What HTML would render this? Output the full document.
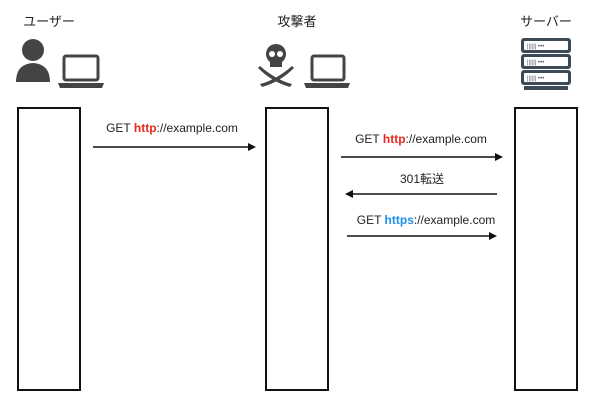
<!DOCTYPE html>
<html><head><meta charset="utf-8"><style>
body{margin:0;background:#fff;width:600px;height:406px;overflow:hidden;position:relative;font-family:"Liberation Sans","Noto Sans CJK JP",sans-serif;}
.t{position:absolute;font-size:12px;color:#222;white-space:nowrap;transform:translateX(-50%);}
.box{position:absolute;border:2px solid #111;background:#fff;box-sizing:border-box;}
.r{color:#e8261c;font-weight:bold}.b{color:#1e90e8;font-weight:bold}
</style></head><body>
<div class="t" style="left:49px;top:11px;font-size:13px">ユーザー</div>
<div class="t" style="left:297px;top:11px;font-size:13px">攻撃者</div>
<div class="t" style="left:546px;top:11px;font-size:13px">サーバー</div>
<svg width="600" height="406" style="position:absolute;left:0;top:0">
<g fill="#444">
<circle cx="33" cy="50" r="11"/>
<path d="M16 82 Q16 64 33 63 Q50 64 50 82 Z"/>
<rect x="64" y="56" width="34" height="24" rx="2" fill="none" stroke="#444" stroke-width="3"/>
<path d="M58 83 L104 83 L102 88 L60 88 Z"/>
<rect x="312" y="56" width="32" height="24" rx="2" fill="none" stroke="#444" stroke-width="3"/>
<path d="M304 83 L350 83 L348 88 L306 88 Z"/>
<circle cx="276" cy="54" r="10"/>
<rect x="270" y="60" width="12" height="7"/>
<path d="M260 66 Q276 80 292 84 L290 87 Q272 82 258 68Z"/>
<path d="M292 66 Q276 80 260 84 L262 87 Q280 82 294 68Z"/>
</g>
<circle cx="272" cy="54" r="3" fill="#fff"/><circle cx="280" cy="54" r="3" fill="#fff"/>
<g fill="#3b4a56">
<rect x="521" y="38" width="50" height="15" rx="3"/>
<rect x="521" y="54" width="50" height="15" rx="3"/>
<rect x="521" y="70" width="50" height="15" rx="3"/>
<rect x="524" y="86" width="44" height="4"/>
</g>
<g fill="#fff"><rect x="524" y="41" width="44" height="9" rx="1"/><rect x="524" y="57" width="44" height="9" rx="1"/><rect x="524" y="73" width="44" height="9" rx="1"/></g>
<g fill="#556" font-size="6"><text x="527" y="48">||||||  •••</text><text x="527" y="64">||||||  •••</text><text x="527" y="80">||||||  •••</text></g>
<g stroke="#111" stroke-width="1.5" fill="#111">
<line x1="93" y1="147" x2="250" y2="147"/><path d="M256 147 L248 143 L248 151Z" stroke="none"/>
<line x1="341" y1="157" x2="497" y2="157"/><path d="M503 157 L495 153 L495 161Z" stroke="none"/>
<line x1="351" y1="194" x2="497" y2="194"/><path d="M345 194 L353 190 L353 198Z" stroke="none"/>
<line x1="347" y1="236" x2="491" y2="236"/><path d="M497 236 L489 232 L489 240Z" stroke="none"/>
</g>
</svg>
<div class="box" style="left:17px;top:107px;width:64px;height:284px"></div>
<div class="box" style="left:265px;top:107px;width:64px;height:284px"></div>
<div class="box" style="left:514px;top:107px;width:64px;height:284px"></div>
<div class="t" style="left:172px;top:121px">GET <span class="r">http</span>://example.com</div>
<div class="t" style="left:421px;top:132px">GET <span class="r">http</span>://example.com</div>
<div class="t" style="left:422px;top:170px">301転送</div>
<div class="t" style="left:426px;top:213px">GET <span class="b">https</span>://example.com</div>
</body></html>
